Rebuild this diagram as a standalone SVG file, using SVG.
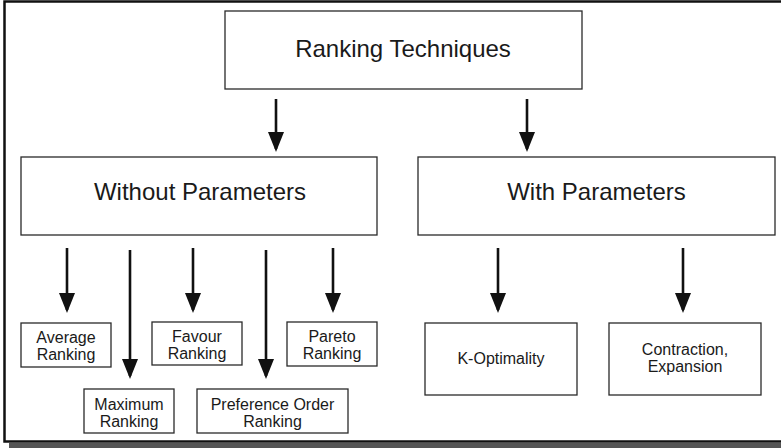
<svg xmlns="http://www.w3.org/2000/svg" width="781" height="448" viewBox="0 0 781 448">
  <style>
    .box { fill: #ffffff; stroke: #2a2a2a; stroke-width: 1.3; }
    .big { font-family: "Liberation Sans", Arial, sans-serif; font-size: 24px; fill: #1a1a1a; text-anchor: middle; }
    .small { font-family: "Liberation Sans", Arial, sans-serif; font-size: 16px; fill: #1a1a1a; text-anchor: middle; }
    .conn { stroke: #111111; stroke-width: 2.6; fill: none; marker-end: url(#head); }
  </style>
  <defs>
    <marker id="head" markerUnits="userSpaceOnUse" markerWidth="20" markerHeight="16" refX="17" refY="8" orient="auto" viewBox="0 0 20 16">
      <path d="M0,0 L20,8 L0,16 Z" fill="#111111"/>
    </marker>
  </defs>

  <!-- page background and frame with drop shadow -->
  <rect x="0" y="0" width="781" height="448" fill="#ffffff"/>
  <rect x="9" y="443" width="772" height="5" fill="#555555"/>
  <rect x="4.5" y="1.5" width="790" height="440" fill="none" stroke="#111111" stroke-width="2.5"/>

  <!-- connectors -->
  <g id="connectors">
    <line class="conn" x1="276" y1="99" x2="276" y2="149"/>
    <line class="conn" x1="527" y1="99" x2="527" y2="149"/>
    <line class="conn" x1="67" y1="248" x2="67" y2="310"/>
    <line class="conn" x1="130" y1="250" x2="130" y2="376"/>
    <line class="conn" x1="193" y1="248" x2="193" y2="310"/>
    <line class="conn" x1="266" y1="250" x2="266" y2="376"/>
    <line class="conn" x1="333" y1="248" x2="333" y2="310"/>
    <line class="conn" x1="498" y1="248" x2="498" y2="310"/>
    <line class="conn" x1="683" y1="248" x2="683" y2="310"/>
  </g>

  <g id="ranking-techniques">
    <rect class="box" x="225" y="11" width="357" height="78"/>
    <text class="big" x="403" y="57">Ranking Techniques</text>
  </g>

  <g id="without-parameters">
    <rect class="box" x="21" y="157" width="356" height="78"/>
    <text class="big" x="200" y="200">Without Parameters</text>
  </g>

  <g id="with-parameters">
    <rect class="box" x="418" y="157" width="357" height="78"/>
    <text class="big" x="596.5" y="200">With Parameters</text>
  </g>

  <g id="average-ranking">
    <rect class="box" x="21" y="323" width="90" height="44"/>
    <text class="small" x="66" y="343">Average</text>
    <text class="small" x="66" y="360">Ranking</text>
  </g>

  <g id="maximum-ranking">
    <rect class="box" x="84" y="389" width="90" height="44"/>
    <text class="small" x="129" y="410">Maximum</text>
    <text class="small" x="129" y="427">Ranking</text>
  </g>

  <g id="favour-ranking">
    <rect class="box" x="152" y="322" width="90" height="43"/>
    <text class="small" x="197" y="342">Favour</text>
    <text class="small" x="197" y="359">Ranking</text>
  </g>

  <g id="preference-order-ranking">
    <rect class="box" x="197" y="389" width="151" height="44"/>
    <text class="small" x="272.5" y="410">Preference Order</text>
    <text class="small" x="272.5" y="427">Ranking</text>
  </g>

  <g id="pareto-ranking">
    <rect class="box" x="287" y="322" width="90" height="44"/>
    <text class="small" x="332" y="342">Pareto</text>
    <text class="small" x="332" y="359">Ranking</text>
  </g>

  <g id="k-optimality">
    <rect class="box" x="425" y="323" width="152" height="72"/>
    <text class="small" x="501" y="364">K-Optimality</text>
  </g>

  <g id="contraction-expansion">
    <rect class="box" x="609" y="323" width="152" height="72"/>
    <text class="small" x="685" y="355">Contraction,</text>
    <text class="small" x="685" y="372">Expansion</text>
  </g>
</svg>
